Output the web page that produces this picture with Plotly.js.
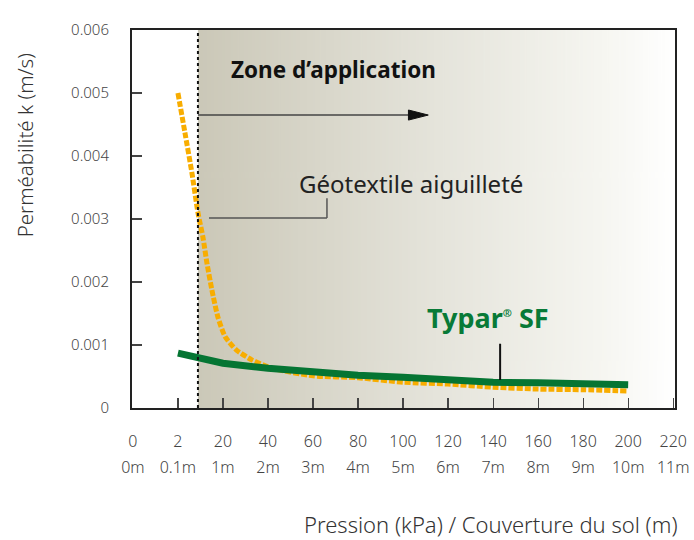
<!DOCTYPE html>
<html>
<head>
<meta charset="utf-8">
<script src="https://cdn.plot.ly/plotly-3.0.1.min.js"></script>
<style>html,body{margin:0;padding:0;background:#fff;}</style>
</head>
<body>
<div id="chart" style="width:694px;height:540px;"></div>
<script>
// ---- Data ----
const pressureTicks = [0, 2, 20, 40, 60, 80, 100, 120, 140, 160, 180, 200, 220];
const pressureLabels = ['0', '2', '20', '40', '60', '80', '100', '120', '140', '160', '180', '200', '220'];
const coverLabels = ['0m', '0.1m', '1m', '2m', '3m', '4m', '5m', '6m', '7m', '8m', '9m', '10m', '11m'];
const yTicks = [0, 0.001, 0.002, 0.003, 0.004, 0.005, 0.006];
const yTickLabels = ['0', '0.001', '0.002', '0.003', '0.004', '0.005', '0.006'];

const typarPressure = [2, 20, 40, 60, 80, 100, 120, 140, 160, 180, 200];
const typarK = [0.00087, 0.00071, 0.00063, 0.00057, 0.00052, 0.00049, 0.00044, 0.00041, 0.00040, 0.00038, 0.00037];

const geoPressure = [2, 4.8, 7.6, 10, 12, 13.6, 15.6, 18, 21, 26, 33, 42, 60, 80, 100, 120, 140, 160, 180, 200];
const geoK = [0.0050, 0.00437, 0.00373, 0.00310, 0.00271, 0.00230, 0.00187, 0.00144, 0.00113, 0.00092, 0.00076, 0.00063, 0.00051, 0.00048, 0.00041, 0.00038, 0.00033, 0.00030, 0.00029, 0.00027];

const zoneStartPressure = 10;

// The horizontal axis of the original is not linear: 0-2, 2-20, then steps of 20 are equally spaced.
function pressureToAxis(p) {
  if (p <= 2) return p / 2;
  if (p <= 20) return 1 + (p - 2) / 18;
  return 1 + p / 20;
}

const xRange = [-0.02, 12.04];
const tickPos = pressureTicks.map(pressureToAxis);
const zoneX = pressureToAxis(zoneStartPressure);

// gradient background image for the application zone
const cv = document.createElement('canvas');
cv.width = 512; cv.height = 4;
const ctx = cv.getContext('2d');
const g = ctx.createLinearGradient(0, 0, 512, 0);
g.addColorStop(0, 'rgb(203,200,184)');
g.addColorStop(0.5, 'rgb(229,228,219)');
g.addColorStop(0.85, 'rgb(246,246,241)');
g.addColorStop(1, 'rgb(255,255,255)');
ctx.fillStyle = g;
ctx.fillRect(0, 0, 512, 4);
const gradURL = cv.toDataURL('image/png');

const FONT = 'Noto Sans, Open Sans, sans-serif';

const traces = [
  {
    x: geoPressure.map(pressureToAxis), y: geoK,
    type: 'scatter', mode: 'lines', name: 'Géotextile aiguilleté',
    line: {color: '#f8ad00', width: 5, dash: '6px,2px', shape: 'spline', smoothing: 0.6},
    hoverinfo: 'skip'
  },
  {
    x: typarPressure.map(pressureToAxis), y: typarK,
    xaxis: 'x2', yaxis: 'y',
    type: 'scatter', mode: 'lines', name: 'Typar SF',
    line: {color: '#057533', width: 7},
    hoverinfo: 'skip'
  }
];

const arrowY = 0.00465, arrowTip = 6.56;

const layout = {
  width: 694, height: 540,
  margin: {l: 132, r: 19, t: 30, b: 132},
  paper_bgcolor: '#ffffff',
  plot_bgcolor: 'rgba(0,0,0,0)',
  showlegend: false,
  font: {family: FONT, color: '#444'},
  xaxis: {
    range: xRange, tickmode: 'array', tickvals: tickPos, ticktext: pressureLabels,
    ticks: 'inside', ticklen: 10, tickwidth: 1.2, tickcolor: '#444',
    showline: true, mirror: true, linecolor: '#222', linewidth: 2,
    showgrid: false, zeroline: false,
    tickfont: {family: FONT, size: 16, color: '#444', weight: 300},
    ticklabelstandoff: 18
  },
  xaxis2: {
    overlaying: 'x', anchor: 'y', side: 'bottom',
    range: xRange, tickmode: 'array', tickvals: tickPos, ticktext: coverLabels,
    ticks: '', showline: false, showgrid: false, zeroline: false,
    tickfont: {family: FONT, size: 16, color: '#444', weight: 300},
    ticklabelstandoff: 48
  },
  yaxis: {
    range: [0, 0.006], tickmode: 'array', tickvals: yTicks, ticktext: yTickLabels,
    ticks: 'inside', ticklen: 10, tickwidth: 1.2, tickcolor: '#444',
    showline: true, mirror: true, linecolor: '#222', linewidth: 2,
    showgrid: false, zeroline: false,
    tickfont: {family: FONT, size: 15, color: '#444', weight: 300},
    ticklabelstandoff: 18
  },
  images: [{
    source: gradURL, xref: 'x', yref: 'y',
    x: zoneX, y: 0.006, sizex: xRange[1] - zoneX, sizey: 0.006,
    xanchor: 'left', yanchor: 'top', sizing: 'stretch', layer: 'below'
  }],
  shapes: [
    {type: 'line', xref: 'x', yref: 'paper', x0: zoneX, x1: zoneX, y0: 0, y1: 1,
     line: {color: '#111', width: 2, dash: '3px,3px'}},
    // application-zone arrow
    {type: 'line', xref: 'x', yref: 'y', x0: zoneX, x1: arrowTip - 0.3, y0: arrowY, y1: arrowY,
     line: {color: '#444', width: 1.5}},
    {type: 'path', xref: 'x', yref: 'y',
     path: 'M ' + (arrowTip - 0.44) + ',' + (arrowY + 0.00008) + ' L ' + arrowTip + ',' + arrowY +
           ' L ' + (arrowTip - 0.44) + ',' + (arrowY - 0.00008) + ' Z',
     fillcolor: '#111', line: {color: '#111', width: 1}},
    // leader for Géotextile label
    {type: 'line', xref: 'x', yref: 'y', x0: 1.69, x1: 4.31, y0: 0.003015, y1: 0.003015,
     line: {color: '#555', width: 1.5}},
    {type: 'line', xref: 'x', yref: 'y', x0: 4.31, x1: 4.31, y0: 0.003015, y1: 0.00333,
     line: {color: '#555', width: 1.5}},
    // leader for Typar label
    {type: 'line', xref: 'x', yref: 'y', x0: 8.156, x1: 8.156, y0: 0.000444, y1: 0.00102,
     line: {color: '#111', width: 2}}
  ],
  annotations: [
    {text: 'Zone d\u2019application', xref: 'x', yref: 'y', x: 2.13, y: 0.00537,
     xanchor: 'left', yanchor: 'middle', showarrow: false,
     font: {family: FONT, size: 22.5, color: '#111', weight: 'bold'}},
    {text: 'Géotextile aiguilleté', xref: 'x', yref: 'y', x: 6.18, y: 0.00357,
     xanchor: 'center', yanchor: 'middle', showarrow: false,
     font: {family: FONT, size: 24, color: '#222'}},
    {text: 'Typar<sup><span style="font-size:11px">®</span></sup> SF', xref: 'x', yref: 'y', x: 7.88, y: 0.00143,
     xanchor: 'center', yanchor: 'middle', showarrow: false,
     font: {family: FONT, size: 27, color: '#087a37', weight: 'bold'}},
    {text: 'Pression (kPa) / Couverture du sol (m)', xref: 'paper', yref: 'paper',
     x: 1.0095, y: -0.308, xanchor: 'right', yanchor: 'middle', showarrow: false,
     font: {family: FONT, size: 22, color: '#333', weight: 300}},
    {text: 'Perméabilité k (m/s)', xref: 'paper', yref: 'paper',
     x: -0.197, y: 0.695, xanchor: 'center', yanchor: 'middle', textangle: -90, showarrow: false,
     font: {family: FONT, size: 20.5, color: '#333', weight: 300}}
  ]
};

Plotly.newPlot('chart', traces, layout, {displayModeBar: false, staticPlot: true});
</script>
</body>
</html>
